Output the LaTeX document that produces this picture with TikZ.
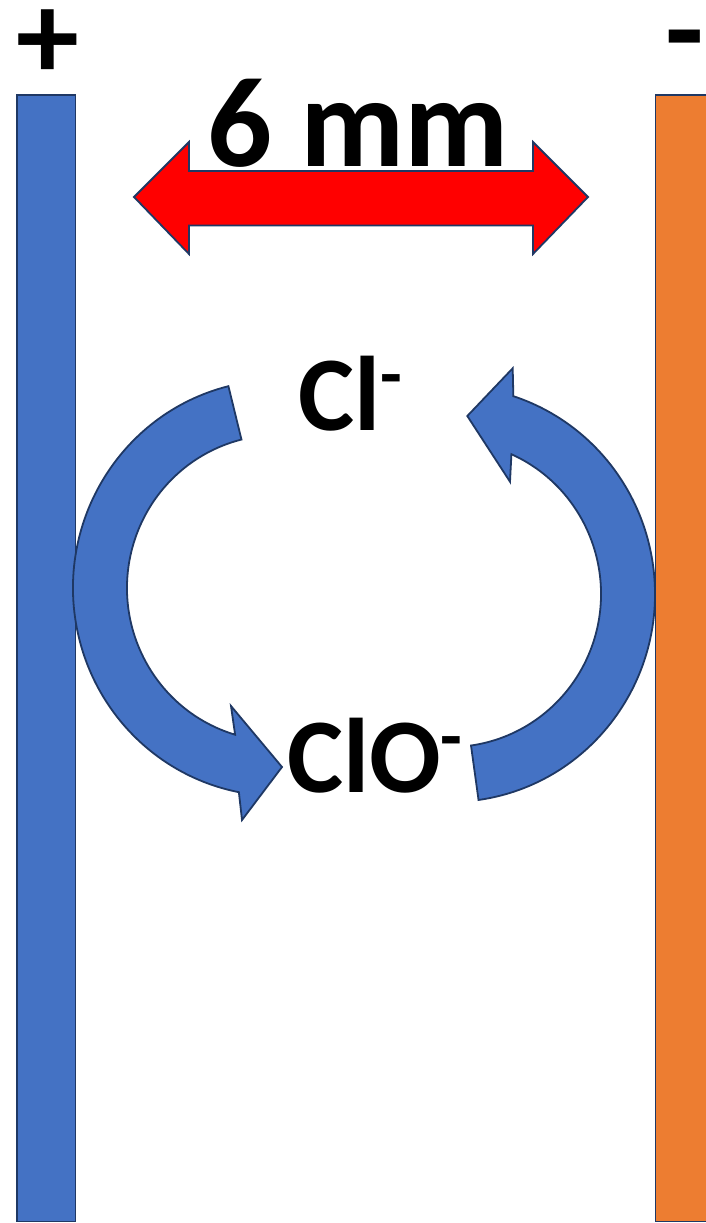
\documentclass[tikz,border=0pt]{standalone}
\usepackage{fontspec}
\setmainfont{Carlito}
\usetikzlibrary{calc}
\definecolor{eblue}{HTML}{4472C4}
\definecolor{eorange}{HTML}{ED7D31}
\definecolor{edge}{HTML}{1F3864}
\definecolor{ared}{HTML}{FF0000}
\tikzset{
  outl/.style={draw=edge, line width=1.8pt, line join=miter},
  lbl/.style={inner sep=0pt, outer sep=0pt, text=black},
  bigtxt/.style={font=\bfseries\fontsize{126}{126}\selectfont},
  disttxt/.style={font=\bfseries\fontsize{128}{128}\selectfont},
  iontxt/.style={font=\bfseries\fontsize{106}{106}\selectfont}
}
\newcommand{\supminus}{\raisebox{32pt}{\fontsize{71}{71}\selectfont -}}
\begin{document}
\begin{tikzpicture}[x=1pt,y=1pt]
\useasboundingbox (0,0) rectangle (705,-1223);
\fill[white] (0,0) rectangle (705,-1223);
% electrodes
\draw[outl, fill=eblue] (17,-95) rectangle (75.5,-1221.5);
\draw[outl, fill=eorange] (655.5,-95) rectangle (730,-1221.5);
% polarity labels
\node[lbl, bigtxt, anchor=base] (plus) at (47.5,-79) {+};
\node[lbl, bigtxt, anchor=base] (minus) at (685,-73) {-};
% distance arrow
\draw[outl, fill=ared] (134,-197) -- (189,-142) -- (189,-171) -- (533,-171) -- (533,-142)
  -- (588,-197) -- (533,-254) -- (533,-225.5) -- (189,-225.5) -- (189,-254) -- cycle;
\node[lbl, disttxt, anchor=base west] (dist) at (207,-166) {6 mm};
% ions
\node[lbl, iontxt, anchor=base west] (cl) at (298,-430) {Cl\supminus};
\node[lbl, iontxt, anchor=base west] (clo) at (287,-792) {ClO\supminus};
% left curved arrow (Cl- -> ClO-)
\coordinate (c1) at (278,-588);
\draw[outl, fill=eblue] ($(c1)+(104:205 and 208)$)
  arc[start angle=104, end angle=259, x radius=205, y radius=208]
  -- (242,-820) -- (282,-767) -- (231,-706)
  -- ($(c1)+(253.5:151 and 153)$)
  arc[start angle=253.5, end angle=104, x radius=151, y radius=153] -- cycle;
% right curved arrow (ClO- -> Cl-)
\coordinate (c2) at (450,-594);
\draw[outl, fill=eblue] ($(c2)+(-82:205 and 208)$)
  arc[start angle=-82, end angle=72, x radius=205, y radius=208]
  -- (512.7,-368.3) -- (467.3,-416) -- (510,-481.7)
  -- ($(c2)+(66:151 and 153)$)
  arc[start angle=66, end angle=-82, x radius=151, y radius=153] -- cycle;
\end{tikzpicture}
\end{document}
